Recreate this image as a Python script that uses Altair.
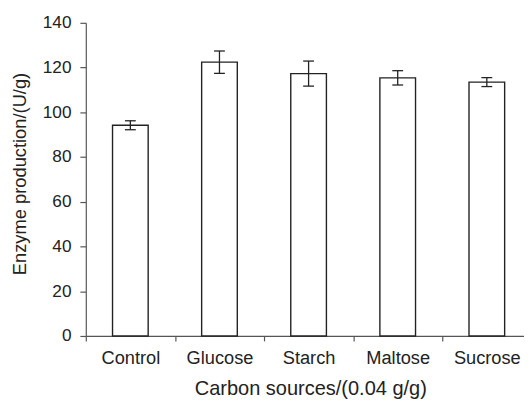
import altair as alt
import pandas as pd

categories = ["Control", "Glucose", "Starch", "Maltose", "Sucrose"]
values = [94.2, 122.4, 117.3, 115.4, 113.5]
errors = [2.0, 5.0, 5.6, 3.2, 2.0]
y_ticks = [0, 20, 40, 60, 80, 100, 120, 140]

df = pd.DataFrame({
    "source": categories,
    "value": values,
    "lower": [v - e for v, e in zip(values, errors)],
    "upper": [v + e for v, e in zip(values, errors)],
})

FONT = "Liberation Sans"
INK = "#222222"
AXIS = "#555555"

x = alt.X(
    "source:N",
    sort=categories,
    scale=alt.Scale(range=[0, 452.5], paddingInner=0, paddingOuter=0),
    axis=alt.Axis(
        title="Carbon sources/(0.04 g/g)",
        labelAngle=0,
        tickBand="extent",
        tickSize=5,
        labelPadding=23,
        labelBaseline="alphabetic",
        labelFontSize=18.5,
        titleFontSize=20.3,
        titleFontWeight="normal",
        titleBaseline="alphabetic",
        titleX=228,
        titleY=59,
        domainColor=AXIS,
        tickColor=AXIS,
        labelColor=INK,
        titleColor=INK,
        labelFont=FONT,
        titleFont=FONT,
        domainWidth=1.2,
        tickWidth=1.2,
    ),
)

yscale = alt.Scale(domain=[0, 140], nice=False)
yaxis = alt.Axis(
    title="Enzyme production/(U/g)",
    values=y_ticks,
    grid=False,
    tickSize=6,
    labelPadding=9,
    labelFontSize=17.5,
    titleFontSize=18.6,
    titleFontWeight="normal",
    titleAngle=270,
    titleBaseline="alphabetic",
    titleX=-61,
    titleY=153,
    domainColor=AXIS,
    tickColor=AXIS,
    labelColor=INK,
    titleColor=INK,
    labelFont=FONT,
    titleFont=FONT,
    domainWidth=1.2,
    tickWidth=1.2,
)

base = alt.Chart(df)

bars = base.mark_bar(
    width=alt.RelativeBandSize(0.4),
    fill="white",
    stroke=INK,
    strokeWidth=1.4,
).encode(x=x, y=alt.Y("value:Q", scale=yscale, axis=yaxis))

rules = base.mark_rule(color=INK, strokeWidth=1.3).encode(
    x=alt.X("source:N", sort=categories),
    y=alt.Y("lower:Q", scale=yscale),
    y2="upper:Q",
)

caps_up = base.mark_tick(color=INK, size=11, thickness=1.3, opacity=1).encode(
    x=alt.X("source:N", sort=categories),
    y=alt.Y("upper:Q", scale=yscale),
)
caps_low = base.mark_tick(color=INK, size=11, thickness=1.3, opacity=1).encode(
    x=alt.X("source:N", sort=categories),
    y=alt.Y("lower:Q", scale=yscale),
)

chart = (
    alt.layer(bars, rules, caps_up, caps_low)
    .properties(
        width=445,
        height=318,
        autosize=alt.AutoSizeParams(type="none"),
        padding={"left": 79, "top": 12, "right": 0, "bottom": 63},
        background="white",
    )
    .configure_view(strokeWidth=0)
)

chart.save("out.html", embed_options={"renderer": "svg", "actions": False})
